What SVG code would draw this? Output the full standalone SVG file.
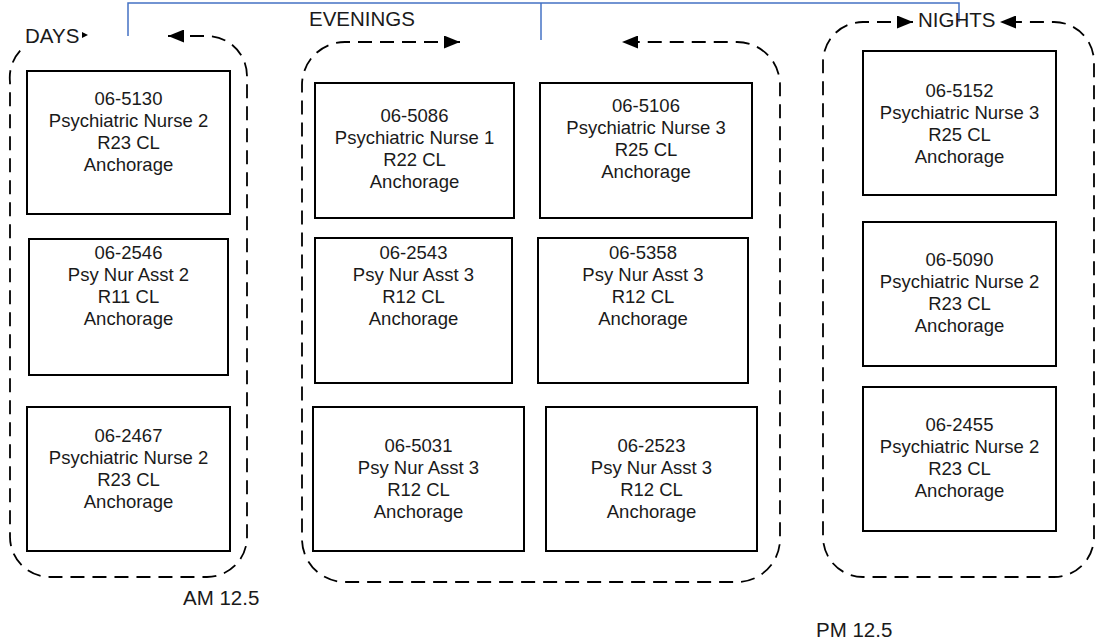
<svg xmlns="http://www.w3.org/2000/svg" width="1096" height="644" viewBox="0 0 1096 644">
<style>
  .box { fill: #ffffff; stroke: #000000; stroke-width: 2; }
  .t { font-family: "Liberation Sans", Arial, sans-serif; font-size: 18.5px; fill: #1a1a1a; text-anchor: middle; }
  .lbl { font-family: "Liberation Sans", Arial, sans-serif; font-size: 20.5px; fill: #1a1a1a; }
  .grp { fill: none; stroke: #000000; stroke-width: 1.8; stroke-dasharray: 14 8; }
  .blue { fill: none; stroke: #4472C4; stroke-width: 1.5; }
</style>
<defs>
  <marker id="ah" markerUnits="userSpaceOnUse" viewBox="0 0 16 13" refX="16" refY="6.5" markerWidth="16" markerHeight="13" orient="auto-start-reverse">
    <path d="M0,0 L16,6.5 L0,13 z" fill="#000000"/>
  </marker>
</defs>
<rect width="1096" height="644" fill="#ffffff"/>

<g id="connectors">
  <path class="blue" d="M128,36 L128,3 L959,3 L959,22"/>
  <path class="blue" d="M541,3 L541,40"/>
</g>

<g id="days-group">
  <path class="grp" d="M168,36 L207,36 A40,40 0 0 1 247,76 L247,537 A40,40 0 0 1 207,577 L50,577 A40,40 0 0 1 10,537 L10,82 A40,40 0 0 1 24,47" marker-start="url(#ah)"/>
  <text class="lbl" x="25" y="43">DAYS</text>
  <path d="M82,32 L88,35 L82,38 z" fill="#000000"/>
  <text class="lbl" x="183" y="605">AM 12.5</text>
</g>

<g id="evenings-group">
  <path class="grp" d="M460,42 L345,42 A43,43 0 0 0 302,85 L302,539 A43,43 0 0 0 345,582 L737,582 A43,43 0 0 0 780,539 L780,85 A43,43 0 0 0 737,42 L622,42" marker-start="url(#ah)" marker-end="url(#ah)"/>
  <text class="lbl" x="309" y="26" font-size="20">EVENINGS</text>
</g>

<g id="nights-group">
  <path class="grp" d="M913,22 L863,22 A40,40 0 0 0 823,62 L823,537 A40,40 0 0 0 863,577 L1054,577 A40,40 0 0 0 1094,537 L1094,62 A40,40 0 0 0 1054,22 L1000,22" marker-start="url(#ah)" marker-end="url(#ah)"/>
  <text class="lbl" x="918" y="27">NIGHTS</text>
  <text class="lbl" x="816" y="637">PM 12.5</text>
</g>

<g id="n-06-5130">
  <rect class="box" x="27" y="71" width="203" height="143"/>
  <text class="t" x="128.5" y="105">06-5130</text>
  <text class="t" x="128.5" y="127">Psychiatric Nurse 2</text>
  <text class="t" x="128.5" y="149">R23 CL</text>
  <text class="t" x="128.5" y="171">Anchorage</text>
</g>
<g id="n-06-2546">
  <rect class="box" x="29" y="239" width="199" height="136"/>
  <text class="t" x="128.5" y="259">06-2546</text>
  <text class="t" x="128.5" y="281">Psy Nur Asst 2</text>
  <text class="t" x="128.5" y="303">R11 CL</text>
  <text class="t" x="128.5" y="325">Anchorage</text>
</g>
<g id="n-06-2467">
  <rect class="box" x="27" y="407" width="203" height="144"/>
  <text class="t" x="128.5" y="442">06-2467</text>
  <text class="t" x="128.5" y="464">Psychiatric Nurse 2</text>
  <text class="t" x="128.5" y="486">R23 CL</text>
  <text class="t" x="128.5" y="508">Anchorage</text>
</g>

<g id="n-06-5086">
  <rect class="box" x="315" y="83" width="199" height="135"/>
  <text class="t" x="414.5" y="122">06-5086</text>
  <text class="t" x="414.5" y="144">Psychiatric Nurse 1</text>
  <text class="t" x="414.5" y="166">R22 CL</text>
  <text class="t" x="414.5" y="188">Anchorage</text>
</g>
<g id="n-06-5106">
  <rect class="box" x="540" y="83" width="212" height="135"/>
  <text class="t" x="646" y="112">06-5106</text>
  <text class="t" x="646" y="134">Psychiatric Nurse 3</text>
  <text class="t" x="646" y="156">R25 CL</text>
  <text class="t" x="646" y="178">Anchorage</text>
</g>
<g id="n-06-2543">
  <rect class="box" x="315" y="238" width="197" height="145"/>
  <text class="t" x="413.5" y="259">06-2543</text>
  <text class="t" x="413.5" y="281">Psy Nur Asst 3</text>
  <text class="t" x="413.5" y="303">R12 CL</text>
  <text class="t" x="413.5" y="325">Anchorage</text>
</g>
<g id="n-06-5358">
  <rect class="box" x="538" y="238" width="210" height="145"/>
  <text class="t" x="643" y="259">06-5358</text>
  <text class="t" x="643" y="281">Psy Nur Asst 3</text>
  <text class="t" x="643" y="303">R12 CL</text>
  <text class="t" x="643" y="325">Anchorage</text>
</g>
<g id="n-06-5031">
  <rect class="box" x="313" y="407" width="211" height="144"/>
  <text class="t" x="418.5" y="452">06-5031</text>
  <text class="t" x="418.5" y="474">Psy Nur Asst 3</text>
  <text class="t" x="418.5" y="496">R12 CL</text>
  <text class="t" x="418.5" y="518">Anchorage</text>
</g>
<g id="n-06-2523">
  <rect class="box" x="546" y="407" width="211" height="144"/>
  <text class="t" x="651.5" y="452">06-2523</text>
  <text class="t" x="651.5" y="474">Psy Nur Asst 3</text>
  <text class="t" x="651.5" y="496">R12 CL</text>
  <text class="t" x="651.5" y="518">Anchorage</text>
</g>

<g id="n-06-5152">
  <rect class="box" x="863" y="51" width="193" height="144"/>
  <text class="t" x="959.5" y="97">06-5152</text>
  <text class="t" x="959.5" y="119">Psychiatric Nurse 3</text>
  <text class="t" x="959.5" y="141">R25 CL</text>
  <text class="t" x="959.5" y="163">Anchorage</text>
</g>
<g id="n-06-5090">
  <rect class="box" x="863" y="222" width="193" height="144"/>
  <text class="t" x="959.5" y="266">06-5090</text>
  <text class="t" x="959.5" y="288">Psychiatric Nurse 2</text>
  <text class="t" x="959.5" y="310">R23 CL</text>
  <text class="t" x="959.5" y="332">Anchorage</text>
</g>
<g id="n-06-2455">
  <rect class="box" x="863" y="387" width="193" height="144"/>
  <text class="t" x="959.5" y="431">06-2455</text>
  <text class="t" x="959.5" y="453">Psychiatric Nurse 2</text>
  <text class="t" x="959.5" y="475">R23 CL</text>
  <text class="t" x="959.5" y="497">Anchorage</text>
</g>
</svg>
